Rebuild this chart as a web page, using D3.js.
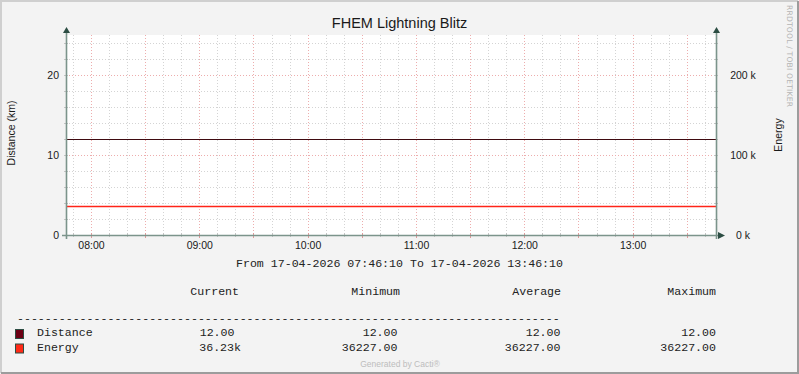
<!DOCTYPE html>
<html>
<head>
<meta charset="utf-8">
<script src="https://cdn.jsdelivr.net/npm/d3@7"></script>
<style>
  body { margin: 0; background: #fff; }
  svg { display: block; }
</style>
</head>
<body>
<svg id="chart" width="799" height="374"></svg>
<script>
// chart data
var title = "FHEM Lightning Blitz";
var startTime = new Date(2026, 3, 17, 7, 46, 10);
var endTime = new Date(2026, 3, 17, 13, 46, 10);
var sampleTimes = [startTime, endTime];
var distanceValues = [12, 12];
var energyValues = [36227, 36227];
var distanceTicks = [0, 10, 20];
var energyTicks = [0, 100000, 200000];
var periodText = "From 17-04-2026 07:46:10 To 17-04-2026 13:46:10";

var legendNames = ["Distance", "Energy"];
var legendHeaders = ["Current", "Minimum", "Average", "Maximum"];
var legendCurrent = ["12.00", "36.23k"];
var legendMinimum = ["12.00", "36227.00"];
var legendAverage = ["12.00", "36227.00"];
var legendMaximum = ["12.00", "36227.00"];

var seriesColors = ["#3f0a10", "#ff2418"];
var boxColors = ["#6c0014", "#ff2a17"];

var W = 799, H = 374;
var plot = {left: 66, right: 716, top: 35, bottom: 235};
var sans = "'Liberation Sans', Arial, sans-serif";
var mono = "'Liberation Mono', 'Courier New', monospace";

var svg = d3.select("#chart");

// background + frame
svg.append("rect").attr("width", W).attr("height", H).attr("fill", "#f3f3f3");
svg.append("path").attr("d", "M1,373V1H798").attr("fill", "none").attr("stroke", "#cfcfcf").attr("stroke-width", 2);
svg.append("path").attr("d", "M1,373H798V1").attr("fill", "none").attr("stroke", "#9c9c9c").attr("stroke-width", 2);

var x = d3.scaleTime().domain([startTime, endTime]).range([plot.left, plot.right]);
var y = d3.scaleLinear().domain([0, 25]).range([plot.bottom, plot.top]);
var y2 = d3.scaleLinear().domain([0, 250000]).range([plot.bottom, plot.top]);

svg.append("rect")
  .attr("x", plot.left).attr("y", plot.top)
  .attr("width", plot.right - plot.left).attr("height", plot.bottom - plot.top)
  .attr("fill", "#ffffff");

var grid = svg.append("g").attr("shape-rendering", "crispEdges");

// minor grid
var minorX = d3.timeMinute.every(10).range(startTime, endTime);
var majorX = d3.timeMinute.every(30).range(startTime, endTime);
var minorY = d3.range(2, 25, 2);
var majorY = d3.range(10, 25, 10);

grid.selectAll(".vminor").data(minorX).enter().append("line")
  .attr("x1", function(d) { return Math.round(x(d)) + 0.5; })
  .attr("x2", function(d) { return Math.round(x(d)) + 0.5; })
  .attr("y1", plot.top).attr("y2", plot.bottom)
  .attr("stroke", "#d4d4d4").attr("stroke-dasharray", "1,2");

grid.selectAll(".hminor").data(minorY).enter().append("line")
  .attr("x1", plot.left).attr("x2", plot.right)
  .attr("y1", function(d) { return Math.round(y(d)) + 0.5; })
  .attr("y2", function(d) { return Math.round(y(d)) + 0.5; })
  .attr("stroke", "#d4d4d4").attr("stroke-dasharray", "1,2");

// major grid
grid.selectAll(".vmajor").data(majorX).enter().append("line")
  .attr("x1", function(d) { return Math.round(x(d)) + 0.5; })
  .attr("x2", function(d) { return Math.round(x(d)) + 0.5; })
  .attr("y1", plot.top).attr("y2", plot.bottom)
  .attr("stroke", "#edadad").attr("stroke-dasharray", "1,2");

grid.selectAll(".hmajor").data(majorY).enter().append("line")
  .attr("x1", plot.left).attr("x2", plot.right)
  .attr("y1", function(d) { return Math.round(y(d)) + 0.5; })
  .attr("y2", function(d) { return Math.round(y(d)) + 0.5; })
  .attr("stroke", "#edadad").attr("stroke-dasharray", "1,2");

// small ticks on the axes
grid.selectAll(".xt").data(minorX).enter().append("line")
  .attr("x1", function(d) { return Math.round(x(d)) + 0.5; })
  .attr("x2", function(d) { return Math.round(x(d)) + 0.5; })
  .attr("y1", plot.bottom - 2).attr("y2", function(d) { return plot.bottom + (d.getMinutes() % 30 == 0 ? 3 : 2); })
  .attr("stroke", function(d) { return d.getMinutes() % 30 == 0 ? "#e09a9a" : "#c4c4c4"; });
grid.selectAll(".yt").data(minorY).enter().append("line")
  .attr("x1", plot.left - 2).attr("x2", plot.left + 2)
  .attr("y1", function(d) { return Math.round(y(d)) + 0.5; })
  .attr("y2", function(d) { return Math.round(y(d)) + 0.5; })
  .attr("stroke", "#c4c4c4");
grid.selectAll(".yt2").data(minorY).enter().append("line")
  .attr("x1", plot.right - 2).attr("x2", plot.right + 2)
  .attr("y1", function(d) { return Math.round(y(d)) + 0.5; })
  .attr("y2", function(d) { return Math.round(y(d)) + 0.5; })
  .attr("stroke", "#c4c4c4");

// series lines
var distLine = d3.line()
  .x(function(d, i) { return x(sampleTimes[i]); })
  .y(function(d) { return Math.round(y(d)) + 0.5; });
var energyLine = d3.line()
  .x(function(d, i) { return x(sampleTimes[i]); })
  .y(function(d) { return Math.round(y2(d)) + 0.5; });

svg.append("path").datum(distanceValues).attr("d", distLine)
  .attr("fill", "none").attr("stroke", seriesColors[0]).attr("stroke-width", 1);
svg.append("path").datum(energyValues).attr("d", energyLine)
  .attr("fill", "none").attr("stroke", seriesColors[1]).attr("stroke-width", 1.3);

// axis lines + arrows
var axisColor = "#7b948b";
svg.append("line").attr("x1", plot.left + 0.5).attr("x2", plot.left + 0.5)
  .attr("y1", plot.top - 4).attr("y2", plot.bottom + 4)
  .attr("stroke", axisColor).attr("stroke-width", 1.6);
svg.append("line").attr("x1", plot.right + 0.5).attr("x2", plot.right + 0.5)
  .attr("y1", plot.top - 4).attr("y2", plot.bottom + 4)
  .attr("stroke", axisColor).attr("stroke-width", 1.6);
svg.append("line").attr("x1", plot.left - 4).attr("x2", plot.right + 4)
  .attr("y1", plot.bottom + 0.5).attr("y2", plot.bottom + 0.5)
  .attr("stroke", axisColor).attr("stroke-width", 1.6);

var arrowColor = "#2c4d43";
svg.append("path").attr("d", "M" + (plot.left - 3) + "," + (plot.top - 2) + "L" + (plot.left + 0.5) + "," + (plot.top - 8) + "L" + (plot.left + 4) + "," + (plot.top - 2) + "Z").attr("fill", arrowColor);
svg.append("path").attr("d", "M" + (plot.right - 3) + "," + (plot.top - 2) + "L" + (plot.right + 0.5) + "," + (plot.top - 8) + "L" + (plot.right + 4) + "," + (plot.top - 2) + "Z").attr("fill", arrowColor);
svg.append("path").attr("d", "M" + (plot.right + 2) + "," + (plot.bottom - 3) + "L" + (plot.right + 9) + "," + (plot.bottom + 0.5) + "L" + (plot.right + 2) + "," + (plot.bottom + 4) + "Z").attr("fill", arrowColor);

// tick labels through d3 axes
var xAxis = d3.axisBottom(x).ticks(d3.timeHour.every(1)).tickFormat(d3.timeFormat("%H:%M")).tickSize(0).tickPadding(0);
var gx = svg.append("g").attr("transform", "translate(0," + 249 + ")").call(xAxis);
gx.select(".domain").remove();
gx.selectAll("text").attr("dy", 0).attr("y", 0).attr("font-family", sans).attr("font-size", "10.5px").attr("fill", "#1a1a1a");

var yAxis = d3.axisLeft(y).tickValues(distanceTicks).tickSize(0).tickPadding(0);
var gy = svg.append("g").attr("transform", "translate(59,0)").call(yAxis);
gy.select(".domain").remove();
gy.selectAll("text").attr("dy", "0.36em").attr("font-family", sans).attr("font-size", "10.5px").attr("fill", "#1a1a1a");

var y2Axis = d3.axisRight(y2).tickValues(energyTicks).tickSize(0).tickPadding(0)
  .tickFormat(function(d) { return (d / 1000) + " k"; });
var gy2 = svg.append("g").attr("transform", "translate(743,0)").call(y2Axis);
gy2.select(".domain").remove();
gy2.selectAll("text").attr("dy", "0.36em").attr("text-anchor", "middle").attr("font-family", sans).attr("font-size", "10.5px").attr("fill", "#1a1a1a");

// titles
svg.append("text").attr("x", 399.5).attr("y", 27.5).attr("text-anchor", "middle")
  .attr("font-family", sans).attr("font-size", "14.5px").attr("fill", "#1a1a1a").text(title);

svg.append("text").attr("transform", "translate(15,133) rotate(-90)").attr("text-anchor", "middle")
  .attr("font-family", sans).attr("font-size", "10.5px").attr("fill", "#1a1a1a").text("Distance (km)");
svg.append("text").attr("transform", "translate(782,135) rotate(-90)").attr("text-anchor", "middle")
  .attr("font-family", sans).attr("font-size", "10.5px").attr("fill", "#1a1a1a").text("Energy");

svg.append("text").attr("transform", "translate(786.5,5) rotate(90)").attr("text-anchor", "start")
  .attr("font-family", "'DejaVu Sans', sans-serif").attr("font-size", "7.6px").attr("fill", "#b3b3b3")
  .attr("textLength", 102).attr("lengthAdjust", "spacing").text("RRDTOOL / TOBI OETIKER");

// period line
svg.append("text").attr("x", 399.5).attr("y", 267).attr("text-anchor", "middle")
  .attr("font-family", mono).attr("font-size", "11.6px").attr("fill", "#222").attr("xml:space", "preserve")
  .text(periodText);

// legend
var colEnds = [239, 400, 561, 716];
var valueEnds = [[234.5, 241], [397.5, 397.5], [560.5, 560.5], [716, 716]];
var rowsY = [336, 350.5];
var columns = [legendCurrent, legendMinimum, legendAverage, legendMaximum];

svg.selectAll(".lhead").data(legendHeaders).enter().append("text")
  .attr("x", function(d, i) { return colEnds[i]; }).attr("y", 295)
  .attr("text-anchor", "end").attr("font-family", mono).attr("font-size", "11.6px").attr("fill", "#222")
  .text(function(d) { return d; });

svg.append("text").attr("x", 17).attr("y", 321.5)
  .attr("font-family", mono).attr("font-size", "11.6px").attr("fill", "#222")
  .text(d3.range(78).map(function() { return "-"; }).join(""));

legendNames.forEach(function(name, r) {
  svg.append("rect").attr("x", 15.5).attr("y", rowsY[r] - 6.5).attr("width", 8).attr("height", 9)
    .attr("fill", boxColors[r]).attr("stroke", "#2c4d43").attr("stroke-width", 1);
  svg.append("text").attr("x", 37).attr("y", rowsY[r])
    .attr("font-family", mono).attr("font-size", "11.6px").attr("fill", "#222").text(name);
  columns.forEach(function(col, c) {
    svg.append("text").attr("x", valueEnds[c][r]).attr("y", rowsY[r])
      .attr("text-anchor", "end").attr("font-family", mono).attr("font-size", "11.6px").attr("fill", "#222")
      .text(col[r]);
  });
});

svg.append("text").attr("x", 400).attr("y", 366.5).attr("text-anchor", "middle")
  .attr("font-family", sans).attr("font-size", "8.5px").attr("fill", "#bdbdbd").text("Generated by Cacti\u00ae");
</script>
</body>
</html>
